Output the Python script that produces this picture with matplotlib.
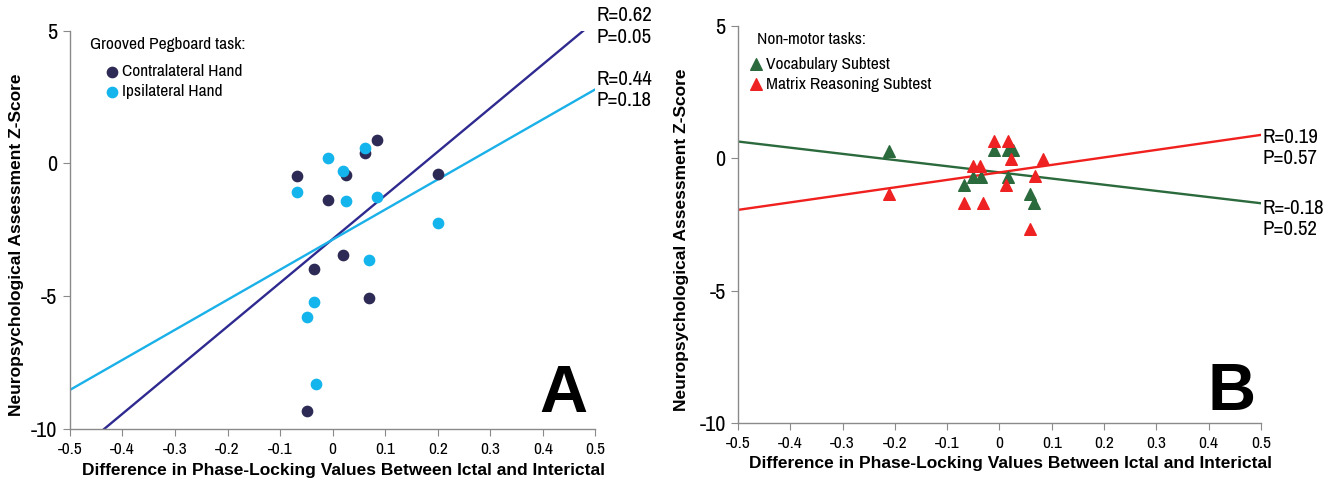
import numpy as np
import matplotlib
matplotlib.use("Agg")
import matplotlib.pyplot as plt

# panel A: grooved pegboard
contra_x = [-0.067, -0.009, 0.025, 0.062, 0.085, 0.200, 0.019, -0.036, 0.070, -0.049]
contra_y = [-0.49, -1.37, -0.43, 0.38, 0.87, -0.40, -3.46, -3.96, -5.05, -9.30]
ipsi_x = [-0.067, -0.009, 0.019, 0.025, 0.062, 0.085, 0.200, 0.070, -0.036, -0.049, -0.031]
ipsi_y = [-1.08, 0.21, -0.30, -1.42, 0.60, -1.25, -2.24, -3.65, -5.20, -5.79, -8.30]
# fitted lines, value at x=-0.5 and x=0.5
contra_fit = [-11.06, 5.37]
ipsi_fit = [-8.52, 2.79]

# panel B: non-motor tasks
vocab_x = [-0.211, -0.068, -0.050, -0.036, -0.010, 0.017, 0.025, 0.017, 0.058, 0.066]
vocab_y = [0.28, -1.01, -0.70, -0.70, 0.30, 0.30, 0.30, -0.70, -1.34, -1.68]
matrix_x = [-0.211, -0.068, -0.032, -0.050, -0.038, -0.010, 0.017, 0.022, 0.012, 0.068, 0.083, 0.058]
matrix_y = [-1.36, -1.70, -1.70, -0.30, -0.30, 0.64, 0.64, -0.04, -1.00, -0.68, -0.04, -2.66]
vocab_fit = [0.63, -1.70]
matrix_fit = [-1.95, 0.88]

stats_a = [("R=0.62\nP=0.05", 4.40), ("R=0.44\nP=0.18", 2.02)]
stats_b = [("R=0.19\nP=0.57", -0.36), ("R=-0.18\nP=0.52", -3.05)]

fit_x = [-0.5, 0.5]
xticks = np.round(np.arange(-0.5, 0.51, 0.1), 1)
yticks = [-10, -5, 0, 5]

narrow = ["Archivo Narrow", "Liberation Sans", "DejaVu Sans"]
plt.rcParams["font.family"] = ["Liberation Sans", "DejaVu Sans"]

fig = plt.figure(figsize=(13.3, 4.78), dpi=100)
axA = fig.add_axes([0.0526, 0.102, 0.395, 0.834])
axB = fig.add_axes([0.555, 0.115, 0.393, 0.831])


def style(ax, ylab_x, xlab_y):
    ax.set_xlim(-0.5, 0.5)
    ax.set_ylim(-10, 5)
    ax.set_xticks(xticks)
    ax.set_xticklabels(["0" if t == 0 else f"{t:g}" for t in xticks],
                       family=narrow, fontsize=12.5)
    ax.set_yticks(yticks)
    ax.set_yticklabels([str(t) for t in yticks], family=narrow, fontsize=16)
    for s in ["top", "right"]:
        ax.spines[s].set_visible(False)
    for s in ["left", "bottom"]:
        ax.spines[s].set_color("#8a8a8a")
        ax.spines[s].set_linewidth(1.0)
    ax.tick_params(direction="out", length=5, color="#8a8a8a", pad=4)
    ax.set_xlabel("Difference in Phase-Locking Values Between Ictal and Interictal",
                  fontsize=12.5, fontweight="bold")
    ax.set_ylabel("Neuropsychological Assessment Z-Score",
                  fontsize=12.5, fontweight="bold")
    ax.xaxis.set_label_coords(0.521, xlab_y)
    ax.yaxis.set_label_coords(ylab_x, 0.462)


def legend(ax, title, title_xy, anchor):
    ax.text(title_xy[0], title_xy[1], title, transform=ax.transAxes,
            family=narrow, fontsize=12.5, ha="left", va="center")
    ax.legend(loc="upper left", bbox_to_anchor=anchor, frameon=False,
              handlelength=1.0, handletextpad=0.1, labelspacing=0.28,
              borderaxespad=0.0, borderpad=0.0,
              prop={"family": narrow, "size": 12.5})


# panel A
axA.plot(fit_x, contra_fit, color="#2f2a8f", lw=1.7)
axA.plot(fit_x, ipsi_fit, color="#1ab0e8", lw=1.7)
axA.scatter(contra_x, contra_y, s=55, color="#2d2b55", zorder=3, label="Contralateral Hand")
axA.scatter(ipsi_x, ipsi_y, s=55, color="#14b4ec", zorder=3, label="Ipsilateral Hand")
style(axA, -0.088, -0.085)
legend(axA, "Grooved Pegboard task:", (0.038, 0.964), (0.063, 0.916))
for txt, y in stats_a:
    axA.text(0.503, y, txt, family=narrow, fontsize=15, va="bottom",
             ha="left", linespacing=1.15, clip_on=False)
axA.text(0.485, -9.36, "A", fontsize=48, fontweight="bold", ha="right", va="baseline")

# panel B
axB.plot(fit_x, vocab_fit, color="#2b6a3c", lw=1.7)
axB.plot(fit_x, matrix_fit, color="#f0201e", lw=1.7)
axB.scatter(vocab_x, vocab_y, s=70, marker="^", color="#2b6a3c", zorder=3,
            label="Vocabulary Subtest")
axB.scatter(matrix_x, matrix_y, s=70, marker="^", color="#ee2222", zorder=3,
            label="Matrix Reasoning Subtest")
style(axB, -0.094, -0.083)
legend(axB, "Non-motor tasks:", (0.036, 0.966), (0.017, 0.922))
for txt, y in stats_b:
    axB.text(0.504, y, txt, family=narrow, fontsize=15, va="bottom",
             ha="left", linespacing=1.15, clip_on=False)
axB.text(0.49, -9.51, "B", fontsize=48, fontweight="bold", ha="right", va="baseline")

fig.savefig("out.png", dpi=100)
